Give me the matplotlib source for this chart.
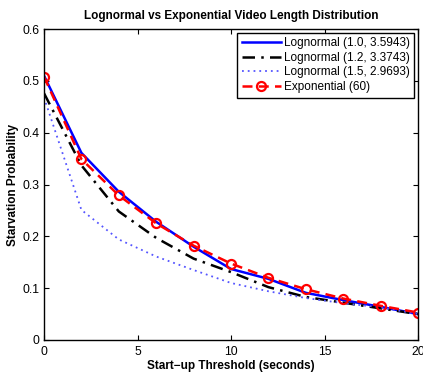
import matplotlib
matplotlib.use("Agg")
import matplotlib.pyplot as plt

plt.rcParams['font.family'] = ['Liberation Sans', 'DejaVu Sans']

x = [0, 2, 4, 6, 8, 10, 12, 14, 16, 18, 20]
logn_10 = [0.510, 0.361, 0.286, 0.228, 0.180, 0.137, 0.118, 0.091, 0.077, 0.064, 0.050]
logn_12 = [0.476, 0.337, 0.248, 0.197, 0.157, 0.131, 0.102, 0.083, 0.072, 0.061, 0.050]
logn_15 = [0.468, 0.251, 0.194, 0.161, 0.135, 0.110, 0.094, 0.081, 0.071, 0.063, 0.050]
expo = [0.508, 0.349, 0.279, 0.225, 0.182, 0.1475, 0.120, 0.098, 0.080, 0.066, 0.053]

labels = ['Lognormal (1.0, 3.5943)', 'Lognormal (1.2, 3.3743)',
          'Lognormal (1.5, 2.9693)', 'Exponential (60)']
title = 'Lognormal vs Exponential Video Length Distribution'
xlabel = 'Start\u2212up Threshold (seconds)'
ylabel = 'Starvation Probability'
xticks = [0, 5, 10, 15, 20]
yticks = [0, 0.1, 0.2, 0.3, 0.4, 0.5, 0.6]

fig = plt.figure(figsize=(4.23, 3.72), dpi=100)
ax = fig.add_axes([44/423, 1-340/372, 374/423, 311/372])

ax.plot(x, logn_10, '-', color='#0000ff', lw=1.8, label=labels[0])
ax.plot(x, logn_12, '-.', color='black', lw=1.8, label=labels[1], dashes=(5, 2.5, 1, 2.5))
ax.plot(x, logn_15, ':', color='#5555ff', lw=1.3, label=labels[2], dashes=(1, 2.2))
ax.plot(x, expo, '--', color='#ff0000', lw=1.8, label=labels[3], marker='o',
        markersize=6.5, markerfacecolor='none', markeredgewidth=1.6, dashes=(4, 2.5))

ax.set_xlim(0, 20)
ax.set_ylim(0, 0.6)
ax.set_xticks(xticks)
ax.set_xticklabels([str(t) for t in xticks])
ax.set_yticks(yticks)
ax.set_yticklabels(['0'] + ['%.1f' % t for t in yticks[1:]])
ax.tick_params(direction='in', top=True, right=True, length=3.5, width=0.8,
               labelsize=8.8, pad=3)
ax.tick_params(axis='x', pad=4)
for s in ax.spines.values():
    s.set_linewidth(1.0)

ax.set_title(title, fontsize=8.5, fontweight='bold', pad=7)
ax.set_xlabel(xlabel, fontsize=8.5, fontweight='bold', labelpad=2)
ax.set_ylabel(ylabel, fontsize=8.5, fontweight='bold', labelpad=3)

leg = ax.legend(loc='upper right', fontsize=8.5, handlelength=3.3, handletextpad=0.25,
                borderpad=0.4, labelspacing=0.22, borderaxespad=0.3, fancybox=False,
                framealpha=1, edgecolor='black')
leg.get_frame().set_linewidth(1.0)

fig.savefig('out.png', dpi=100)
